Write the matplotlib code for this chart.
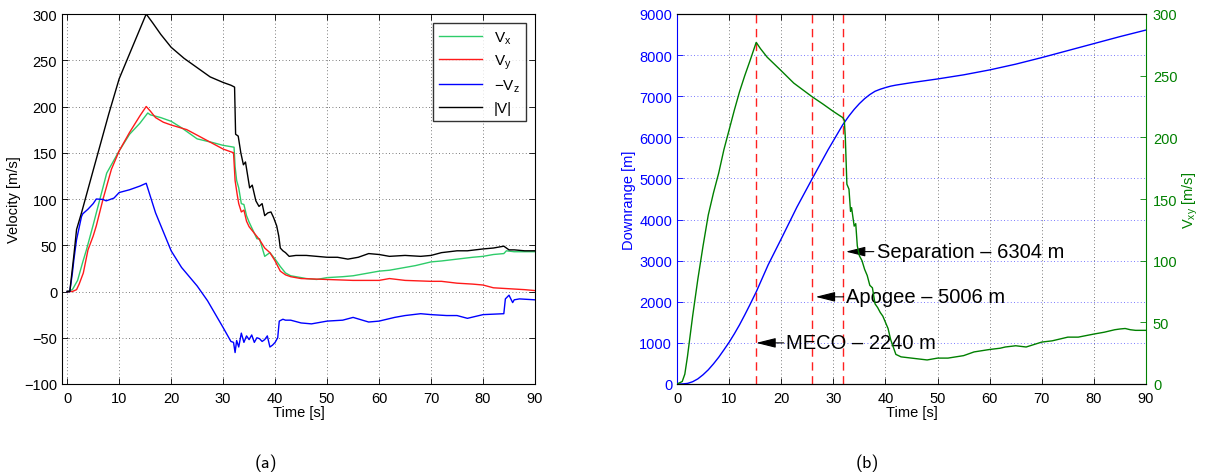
import numpy as np
import matplotlib
matplotlib.use("Agg")
import matplotlib.pyplot as plt

plt.rcParams['font.family'] = ['Liberation Sans', 'DejaVu Sans']
plt.rcParams['axes.unicode_minus'] = True

# ---- (a) velocity components ----
t_vx = [0, 1, 2, 3, 3.7, 5, 5.6, 7, 7.6, 10, 12, 14, 15.5, 16, 18, 20, 22, 25, 28, 30,
        32.1, 32.3, 32.6, 33, 33.5, 34, 34.5, 35, 36, 36.5, 37, 38, 38.5, 39, 40, 41, 42, 43, 46, 48,
        50, 53, 55, 58, 60, 62, 65, 67, 70, 72, 75, 78, 80, 82, 84, 84.5, 86, 88, 90]
vx = [0, 2, 12, 32, 45, 72, 85, 115, 128, 152, 170, 182, 193, 191, 188, 184, 177, 165, 161, 158,
      156, 135, 120, 112, 95, 94, 82, 75, 63, 57, 57, 38, 40, 42, 35, 27, 20, 17, 14, 13,
      15, 16, 17, 20, 22, 23, 26, 28, 32, 33, 35, 37, 38, 40, 41, 44, 43, 43, 43]

t_vy = [0, 1, 1.8, 2.3, 3.1, 4, 5, 5.6, 6.9, 8.5, 10, 12, 14, 15.2, 16, 17, 18.5, 20, 23, 26,
        30, 32, 32.3, 32.7, 33, 33.5, 34, 34.5, 35, 36, 37, 38, 39, 40, 41, 42, 43, 45, 50, 55,
        60, 62, 65, 70, 72, 75, 78, 80, 82, 85, 88, 90]
vy = [0, 0, 2, 8, 20, 45, 60, 71, 100, 132, 152, 172, 190, 200, 195, 188, 183, 180, 175, 166,
      154, 150, 120, 105, 95, 86, 88, 76, 70, 63, 56, 47, 42, 33, 22, 18, 16, 14, 13, 12,
      12, 14, 12, 11, 11, 9, 8, 7, 4, 3, 2, 1]

t_vz = [0, 0.5, 1, 1.3, 1.8, 2.75, 3, 4, 5, 5.6, 6.9, 7.5, 9, 10, 12, 14, 15.2, 17, 20, 22,
        25, 27, 30, 31.5, 32, 32.3, 32.6, 33, 33.5, 34, 34.5, 35, 35.5, 36, 36.5, 37, 37.5, 38, 38.5, 39,
        39.5, 40, 40.5, 40.8, 41.5, 42, 43, 45, 47, 50, 53, 55, 58, 60, 63, 65, 68, 70, 73, 75,
        77, 80, 84, 84.3, 85, 85.7, 86, 87, 90]
neg_vz = [0, 0, 20, 35, 56, 81, 84, 89, 95, 100, 99.5, 98, 101, 107, 110, 114, 117, 85, 44, 26,
          6, -10, -39, -54, -55, -66, -53, -60, -45, -55, -48, -52, -47, -55, -50, -51, -54, -52, -48, -60,
          -58, -55, -50, -32, -30, -31, -31, -34, -35, -32, -31, -28, -33, -32, -28, -26, -24, -25, -26, -26,
          -29, -25, -24, -8, -4, -12, -9, -8, -9]

t_vm = [0, 0.5, 1.3, 1.8, 2.75, 5, 8, 10, 12, 15.2, 16.5, 18, 20, 22.5, 25, 27.5, 30, 31.5, 32.2, 32.4,
        32.9, 33.4, 33.9, 34.3, 35.1, 35.6, 36.3, 36.9, 37.5, 38, 38.6, 39.2, 39.7, 40.3, 40.7, 41, 41.5, 42, 42.7, 44,
        46, 48, 50, 52, 54, 56, 58, 60, 62, 65, 68, 70, 72, 75, 77, 80, 82, 83, 84, 85, 86, 88, 90]
vmag = [0, 0, 40, 67, 85, 131, 192, 230, 257, 300, 290, 278, 264, 252, 242, 232, 226, 223, 221, 170,
        168, 150, 137, 140, 112, 115, 98, 92, 95, 82, 85, 86, 80, 71, 60, 47, 44, 42, 38, 39,
        39, 38, 37, 37, 35, 37, 41, 40, 38, 39, 38, 39, 42, 44, 44, 46, 47, 48, 49, 45, 45, 44, 44]

# ---- (b) downrange and horizontal speed ----
t_dr = [0, 1, 2, 3, 4, 5, 6, 7, 8, 9, 10, 11, 12, 13, 14, 15.2, 17.5, 20, 23, 26, 29, 31.8,
        33, 34, 35, 36, 37, 38, 39, 40, 41, 42, 45, 50, 55, 60, 65, 70, 75, 80, 85, 90]
downrange = [0, 1, 14, 55, 125, 225, 345, 490, 650, 830, 1015, 1220, 1440, 1680, 1930, 2240, 2900, 3530,
             4300, 5006, 5700, 6304, 6520, 6680, 6820, 6940, 7040, 7120, 7170, 7210, 7245, 7270,
             7330, 7420, 7520, 7640, 7780, 7940, 8110, 8280, 8450, 8610]

t_vxy = [0, 1, 1.5, 2, 3, 4, 5, 6, 7, 8, 9, 10, 11, 12, 13, 14, 15.2, 16, 17.3, 20,
         22.4, 25.9, 28, 30, 31.8, 32.1, 32.3, 32.6, 33, 33.3, 33.5, 34, 34.3, 34.6, 35, 35.5, 36, 36.5, 37, 37.5,
         38, 38.5, 39, 39.5, 40, 40.5, 41, 41.5, 42, 43, 45, 48, 50, 52, 55, 57, 60, 62, 63, 65,
         67, 70, 72, 75, 77, 80, 82, 84, 85, 86, 87, 88, 90]
vxy = [0, 2, 8, 22, 55, 85, 112, 137, 155, 171, 190, 206, 222, 237, 250, 262, 277, 272, 265, 254,
       244, 233, 227, 221, 216, 214, 200, 162, 158, 140, 143, 128, 130, 112, 104, 100, 93, 88, 80, 78,
       65, 62, 58, 55, 50, 45, 36, 30, 24, 22, 21, 19.5, 21, 21, 23, 26, 28, 29, 30, 31,
       30, 34, 35, 38, 38, 40.5, 42, 44, 44.6, 45, 44, 43.5, 43.5]

event_t = [15.2, 26.0, 31.8]
event_labels = ['MECO \u2013 2240 m', 'Apogee \u2013 5006 m', 'Separation \u2013 6304 m']
arrow_tip = [(15.2, 1000), (26.6, 2120), (32.4, 3220)]
text_pos = [(21.0, 1000), (32.5, 2120), (38.3, 3220)]

BLUE = '#0000ff'
GREEN = '#008000'
GRIDC = '#505050'
dotted = (0, (1, 3))
FS = 10.5

fig = plt.figure(figsize=(12.07, 4.77), dpi=100)

# (a)
ax = fig.add_axes([62 / 1207, 92 / 477, 473 / 1207, 370 / 477])
ax.plot(t_vx, vx, color='#2ecc6a', lw=1, label=r'$\mathregular{V_x}$')
ax.plot(t_vy, vy, color='#ff1a1a', lw=1, label=r'$\mathregular{V_y}$')
ax.plot(t_vz, neg_vz, color=BLUE, lw=1, label='\u2212' + r'$\mathregular{V_z}$')
ax.plot(t_vm, vmag, color='black', lw=1, label='|V|')
ax.set_xlim(-1, 90)
ax.set_ylim(-100, 300)
ax.set_xticks(np.arange(0, 91, 10))
ax.set_yticks(np.arange(-100, 301, 50))
ax.grid(True, color=GRIDC, linestyle=dotted, lw=0.6)
ax.tick_params(direction='in', top=True, right=True, labelsize=FS, length=4, width=0.6)
ax.tick_params(axis='x', pad=5)
ax.set_xlabel('Time [s]', fontsize=FS, labelpad=0)
ax.set_ylabel('Velocity [m/s]', fontsize=FS, labelpad=2)
for s in ax.spines.values():
    s.set_linewidth(0.8)
leg = ax.legend(loc='upper right', fontsize=11, fancybox=False, edgecolor='black',
                handlelength=2.8, labelspacing=0.45, borderaxespad=0.6)
leg.get_frame().set_linewidth(1.0)

# (b)
bx = fig.add_axes([677 / 1207, 92 / 477, 469 / 1207, 370 / 477])
bx.plot(t_dr, downrange, color=BLUE, lw=1)
bx.set_xlim(0, 90)
bx.set_ylim(0, 9000)
bx.set_xticks(np.arange(0, 91, 10))
bx.set_yticks(np.arange(0, 9001, 1000))
bx.xaxis.grid(True, color=GRIDC, linestyle=dotted, lw=0.6)
bx.yaxis.grid(True, color=BLUE, linestyle=dotted, lw=0.6, alpha=0.7)
bx.tick_params(axis='x', direction='in', top=True, labelsize=FS, length=4, width=0.6, pad=5)
bx.tick_params(axis='y', direction='in', colors=BLUE, labelsize=FS, length=4, width=0.6)
bx.set_xlabel('Time [s]', fontsize=FS, labelpad=0)
bx.set_ylabel('Downrange [m]', fontsize=FS, color=BLUE, labelpad=2)
bx.spines['left'].set_color(BLUE)
bx.spines['right'].set_visible(False)

for et in event_t:
    bx.axvline(et, color='#ff2020', lw=1, linestyle=(0, (6, 4)))
for lab, tip, pos in zip(event_labels, arrow_tip, text_pos):
    bx.annotate(lab, xy=tip, xytext=pos, fontsize=14.5, ha='left', va='center',
                arrowprops=dict(arrowstyle='-|>,head_length=0.8,head_width=0.2', color='black',
                                lw=0.8, mutation_scale=15, shrinkA=0, shrinkB=0))

bx2 = bx.twinx()
bx2.plot(t_vxy, vxy, color=GREEN, lw=1)
bx2.set_ylim(0, 300)
bx2.set_yticks(np.arange(0, 301, 50))
bx2.tick_params(axis='y', direction='in', colors=GREEN, labelsize=FS, length=4, width=0.6, pad=5)
bx2.set_ylabel(r'$\mathregular{V_{xy}}$ [m/s]', fontsize=FS, color=GREEN, labelpad=2)
bx2.spines['right'].set_color(GREEN)
bx2.spines['left'].set_visible(False)

fig.text(266 / 1207, 1 - 463 / 477, '(a)', fontsize=13, family='cmss10', ha='center', va='center')
fig.text(867 / 1207, 1 - 463 / 477, '(b)', fontsize=13, family='cmss10', ha='center', va='center')

fig.savefig('out.png', dpi=100)
